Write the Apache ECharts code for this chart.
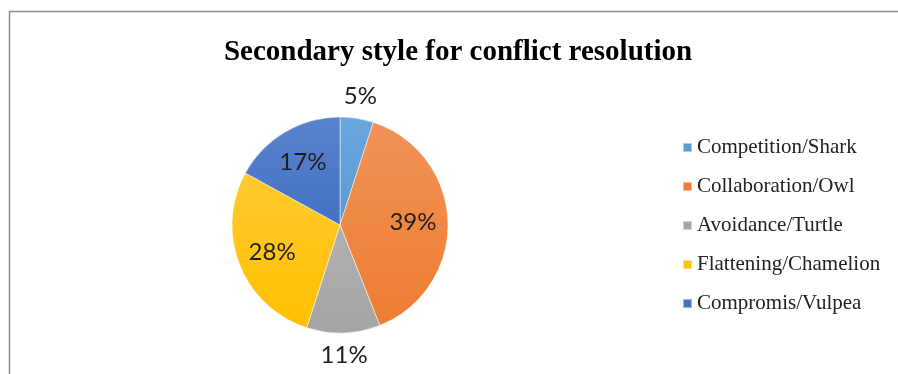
<!DOCTYPE html>
<html>
<head>
<meta charset="utf-8">
<script src="https://cdn.jsdelivr.net/npm/echarts@6/dist/echarts.min.js"></script>
<style>
  html, body { margin: 0; padding: 0; background: #fff; }
  #chart { width: 898px; height: 374px; }
</style>
</head>
<body>
<div id="chart"></div>
<script>
// Chart text and data
const titleText = 'Secondary style for conflict resolution';
const categories = ['Competition/Shark', 'Collaboration/Owl', 'Avoidance/Turtle', 'Flattening/Chamelion', 'Compromis/Vulpea'];
const shares = [5, 39, 11, 28, 17];
// which slices carry their percentage outside the pie
const labelOutside = [true, false, true, false, false];

// Slice fills: base colour with a lighter tone at the top of each slice
const baseColors = ['#5B9BD5', '#ED7D31', '#A5A5A5', '#FFC000', '#4472C4'];
const lightColors = ['#6AA6DC', '#F29257', '#B0B0B0', '#FFCA2E', '#5A82CE'];

const chart = echarts.init(document.getElementById('chart'), null, { renderer: 'canvas' });

const center = [340, 225];
const pieRadius = 108;

function sliceFill(i) {
  return new echarts.graphic.LinearGradient(0, 0, 0, 1, [
    { offset: 0, color: lightColors[i] },
    { offset: 1, color: baseColors[i] }
  ]);
}

const labelFont = { fontFamily: 'Lato, "Open Sans", sans-serif', fontSize: 24, color: '#1e1e1e' };

// Transparent rings that only position the percentage labels
function labelSeries(radius, showOutside) {
  return {
    type: 'pie',
    center: center,
    radius: radius,
    startAngle: 90,
    clockwise: true,
    silent: true,
    animation: false,
    legendHoverLink: false,
    itemStyle: { color: 'rgba(0,0,0,0)', borderWidth: 0 },
    emphasis: { disabled: true },
    labelLine: { show: false },
    data: categories.map((name, i) => ({
      name: name,
      value: shares[i],
      label: {
        show: labelOutside[i] === showOutside,
        position: 'inside',
        formatter: shares[i] + '%',
        ...labelFont
      }
    }))
  };
}

chart.setOption({
  backgroundColor: '#ffffff',
  animation: false,
  title: {
    text: titleText,
    left: 453,
    top: 33,
    textAlign: 'center',
    textStyle: {
      fontFamily: '"Liberation Serif", "Times New Roman", serif',
      fontWeight: 'bold',
      fontSize: 29,
      color: '#000'
    }
  },
  legend: {
    orient: 'vertical',
    left: 682,
    top: 137,
    padding: 0,
    itemWidth: 9,
    itemHeight: 9,
    itemGap: 18,
    icon: 'rect',
    selectedMode: false,
    textStyle: {
      fontFamily: '"Liberation Serif", "Times New Roman", serif',
      fontSize: 21,
      color: '#222'
    },
    data: categories.map((name, i) => ({ name: name, itemStyle: { color: baseColors[i] } }))
  },
  graphic: [
    {
      type: 'polyline',
      silent: true,
      shape: { points: [[9.5, 400], [9.5, 11.5], [900, 11.5]] },
      style: { stroke: '#8c8c8c', lineWidth: 1.5, fill: null }
    }
  ],
  series: [
    {
      type: 'pie',
      center: center,
      radius: pieRadius,
      startAngle: 90,
      clockwise: true,
      animation: false,
      label: { show: false },
      labelLine: { show: false },
      itemStyle: { borderColor: 'rgba(255,255,255,0.5)', borderWidth: 1 },
      data: categories.map((name, i) => ({
        name: name,
        value: shares[i],
        itemStyle: { color: sliceFill(i) }
      }))
    },
    labelSeries([0, 140], false),
    labelSeries([117, 137], true)
  ]
});
</script>
</body>
</html>
